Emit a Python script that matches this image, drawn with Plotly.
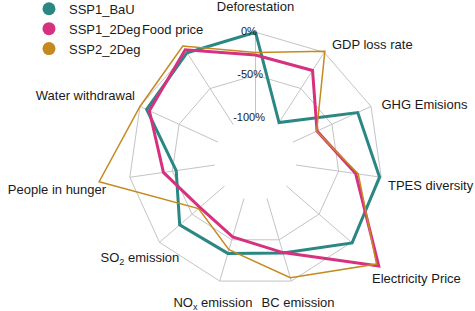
import plotly.graph_objects as go

# ---------------- data ----------------
categories = ["Deforestation", "GDP loss rate", "GHG Emisions", "TPES diversity",
              "Electricity Price", "BC emission", "NOx emission", "SO2 emission",
              "People in hunger", "Water withdrawal", "Food price"]
category_labels = ["Deforestation", "GDP loss rate", "GHG Emisions", "TPES diversity",
                   "<br>Electricity Price", "BC emission", "NO<sub>x</sub> emission",
                   "SO<sub>2</sub> emission", "People in hunger", "Water withdrawal",
                   "Food price"]
series_names = ["SSP1_BaU", "SSP1_2Deg", "SSP2_2Deg"]
ssp1_bau = [0, -97, -17, -2, 1, -34, -33.5, -31, -54.5, -8.5, -0.5]
ssp1_2deg = [-26.5, -25, -69, -30, 42, -34.5, -53.5, -62, -39.5, -12, 3.5]
ssp2_2deg = [-23.5, 1.5, -69.5, -27, 38.5, -4, -38, -60, 36, 0, 8.7]
radial_ticks = [0, -50, -100]
radial_tick_text = ["0%", "-50%", "-100%"]

# ---------------- label positions (degrees clockwise from top, radial value) ----------------
label_theta = [0, 33.9, 67, 101.6, 129.7, 162.9, 197.1, 231.2, 260.6, 297.5, 325.8]
label_r = [21.3, 11.7, 11.5, 9.6, 28.4, 20.8, 20.8, 24.8, 28.4, 10.3, 23.8]
label_pos = ["top center", "middle right", "middle right", "middle right",
             "bottom right", "bottom center", "bottom center", "bottom center",
             "bottom left", "middle left", "top center"]
tick_theta = [-3, -3.7, -9]

colors = ["#2a8784", "#d6317f", "#c48a1f"]
widths = [3, 3, 1.5]
msizes = [5, 5, 6]
FONT = "Liberation Sans, Arial, sans-serif"
GRID = "#c4c4c4"
R_MIN, R_MAX = -100, 28.84
HOLE = 41 / 151.8

fig = go.Figure()

# spokes from the -100% ring to the 0% ring
sp_r, sp_t = [], []
for c in categories:
    sp_r += [R_MIN, 0, None]
    sp_t += [c, c, None]
fig.add_trace(go.Scatterpolar(r=sp_r, theta=sp_t, mode="lines",
                              line=dict(color=GRID, width=1), showlegend=False,
                              hoverinfo="skip", connectgaps=False))

values = [ssp1_bau, ssp1_2deg, ssp2_2deg]
for name, vals, c, w, ms in zip(series_names, values, colors, widths, msizes):
    fig.add_trace(go.Scatterpolar(
        r=vals + vals[:1], theta=categories + categories[:1],
        mode="lines", name=name, showlegend=False,
        line=dict(color=c, width=w), cliponaxis=False, hoverinfo="skip"))
    fig.add_trace(go.Scatterpolar(
        r=vals, theta=categories, mode="markers", name=name, showlegend=False,
        marker=dict(color=c, size=ms), cliponaxis=True, hoverinfo="skip"))

# legend entries (circle only)
for name, c in zip(series_names, colors):
    fig.add_trace(go.Scatterpolar(
        r=[None], theta=[categories[0]], mode="markers", name=name,
        marker=dict(color=c, size=13)))

# category labels (overlay polar with numeric angles)
fig.add_trace(go.Scatterpolar(
    r=label_r, theta=label_theta, mode="text", text=category_labels,
    textposition=label_pos, textfont=dict(family=FONT, size=13, color="#1a1a1a"),
    cliponaxis=False, showlegend=False, hoverinfo="skip", subplot="polar2"))

# radial tick labels
fig.add_trace(go.Scatterpolar(
    r=radial_ticks, theta=tick_theta, mode="text", text=radial_tick_text,
    textposition="middle center",
    textfont=dict(family=FONT, size=11, color="#1a1a1a"),
    cliponaxis=False, showlegend=False, hoverinfo="skip", subplot="polar2"))

domain = dict(x=[0.0758, 1.0], y=[0, 0.9762])
fig.update_layout(
    width=475, height=311,
    margin=dict(l=0, r=0, t=0, b=0, autoexpand=False),
    paper_bgcolor="white", plot_bgcolor="white",
    font=dict(family=FONT, size=13, color="#1a1a1a"),
    polar=dict(
        domain=domain, hole=HOLE, gridshape="linear", bgcolor="rgba(0,0,0,0)",
        radialaxis=dict(range=[R_MIN, R_MAX], tickvals=[-100, -50, 0],
                        showticklabels=False, ticks="", showline=False,
                        showgrid=True, gridcolor=GRID, gridwidth=1),
        angularaxis=dict(type="category", direction="clockwise", rotation=90,
                         showticklabels=False, ticks="", showgrid=False,
                         showline=False),
    ),
    polar2=dict(
        domain=domain, hole=HOLE, bgcolor="rgba(0,0,0,0)",
        radialaxis=dict(range=[R_MIN, R_MAX], visible=False),
        angularaxis=dict(type="linear", thetaunit="degrees", direction="clockwise",
                         rotation=90, visible=False),
    ),
    legend=dict(x=0.061, y=1.02, xanchor="left", yanchor="top",
                font=dict(family=FONT, size=13, color="#1a1a1a"),
                bgcolor="rgba(0,0,0,0)", itemwidth=30),
    showlegend=True,
)

# page margin reset, and let series that exceed the 0% ring draw past the subplot edge
post_js = (
    "document.body.style.margin='0';"
    "document.querySelectorAll('.polarlayer [clip-path]')"
    ".forEach(function(e){e.removeAttribute('clip-path');});"
)
fig.write_html("out.html", config={"displayModeBar": False}, post_script=post_js)
